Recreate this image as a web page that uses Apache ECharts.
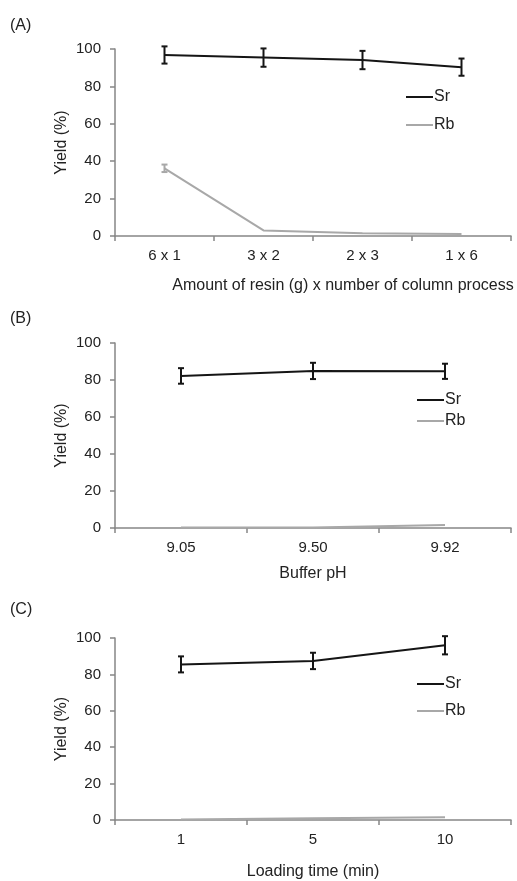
<!DOCTYPE html>
<html>
<head>
    <meta charset="utf-8">
    <title>Yield of Sr and Rb</title>
    <script src="https://cdn.jsdelivr.net/npm/echarts@6/dist/echarts.min.js"></script>
    <style type="text/css">
        html, body { margin: 0; padding: 0; background: #fff; }
        #main { width: 517px; height: 881px; }
    </style>
</head>
<body>
    <div id="main"></div>

    <script type="text/javascript">
        // (A) resin amount x number of column processes
        var catA = ['6 x 1', '3 x 2', '2 x 3', '1 x 6'];
        var srA = [96.8, 95.4, 94.1, 90.3];
        var srAErr = [4.6, 4.9, 4.9, 4.6];
        var rbA = [36.2, 3.0, 1.5, 1.1];
        var rbAErr = [2.0, 0, 0, 0];

        // (B) buffer pH
        var catB = ['9.05', '9.50', '9.92'];
        var srB = [82.2, 84.9, 84.7];
        var srBErr = [4.2, 4.4, 4.1];
        var rbB = [0.3, 0.3, 1.6];

        // (C) loading time
        var catC = ['1', '5', '10'];
        var srC = [85.5, 87.4, 96.0];
        var srCErr = [4.4, 4.5, 5.0];
        var rbC = [0.3, 1.0, 1.5];

        var black = '#151515';
        var grey = '#a8a8a8';
        var axisGrey = '#868686';
        var font = 'Liberation Sans, Arial, sans-serif';

        function errData(vals, errs) {
            var out = [];
            for (var i = 0; i < vals.length; i++) {
                if (errs[i] > 0) out.push([i, vals[i] - errs[i], vals[i] + errs[i]]);
            }
            return out;
        }

        function errSeries(name, idx, vals, errs, color) {
            return {
                name: name,
                type: 'custom',
                xAxisIndex: idx,
                yAxisIndex: idx,
                z: 5,
                data: errData(vals, errs),
                encode: { x: 0, y: [1, 2] },
                renderItem: function (params, api) {
                    var lo = api.coord([api.value(0), api.value(1)]);
                    var hi = api.coord([api.value(0), api.value(2)]);
                    var w = 3;
                    var st = { stroke: color, lineWidth: 2 };
                    return {
                        type: 'group',
                        children: [
                            { type: 'line', shape: { x1: lo[0], y1: lo[1], x2: hi[0], y2: hi[1] }, style: st },
                            { type: 'line', shape: { x1: lo[0] - w, y1: lo[1], x2: lo[0] + w, y2: lo[1] }, style: st },
                            { type: 'line', shape: { x1: hi[0] - w, y1: hi[1], x2: hi[0] + w, y2: hi[1] }, style: st }
                        ]
                    };
                }
            };
        }

        function lineSeries(name, idx, vals, color) {
            return {
                name: name,
                type: 'line',
                xAxisIndex: idx,
                yAxisIndex: idx,
                data: vals,
                showSymbol: false,
                symbol: 'none',
                color: color,
                lineStyle: { color: color, width: 2 }
            };
        }

        function xAxis(idx, cats, name, gap, pad) {
            return {
                type: 'category',
                gridIndex: idx,
                data: cats,
                boundaryGap: true,
                name: name,
                nameLocation: 'middle',
                nameGap: gap,
                nameMoveOverlap: false,
                nameTextStyle: { color: '#222', fontSize: 16, fontFamily: font, padding: pad },
                axisLine: { show: true, lineStyle: { color: axisGrey, width: 1.5 } },
                axisTick: { show: true, length: 5, lineStyle: { color: axisGrey, width: 1.5 } },
                axisLabel: { color: '#222', fontSize: 15, fontFamily: font, margin: 12 },
                splitLine: { show: false }
            };
        }

        function yAxis(idx) {
            return {
                type: 'value',
                gridIndex: idx,
                min: 0,
                max: 100,
                interval: 20,
                name: 'Yield (%)',
                nameLocation: 'middle',
                nameRotate: 90,
                nameGap: 45,
                nameMoveOverlap: false,
                nameTextStyle: { color: '#222', fontSize: 16, fontFamily: font },
                axisLine: { show: true, lineStyle: { color: axisGrey, width: 1.5 } },
                axisTick: { show: true, length: 5, lineStyle: { color: axisGrey, width: 1.5 } },
                axisLabel: { color: '#222', fontSize: 15, fontFamily: font, margin: 14 },
                splitLine: { show: false }
            };
        }

        function legend(left, top, gap) {
            return {
                orient: 'vertical',
                left: left,
                top: top,
                padding: 0,
                data: ['Sr', 'Rb'],
                icon: 'rect',
                itemWidth: 27,
                itemHeight: 2,
                itemGap: gap,
                selectedMode: false,
                textStyle: { color: '#222', fontSize: 16, fontFamily: font, padding: [0, 0, 0, -4] }
            };
        }

        function panelTitle(text, top) {
            return {
                text: text,
                left: 5,
                top: top,
                textStyle: { color: '#222', fontSize: 16, fontWeight: 'normal', fontFamily: font }
            };
        }

        var chart = echarts.init(document.getElementById('main'));

        var option = {
            backgroundColor: '#fff',
            animation: false,
            title: [
                panelTitle('(A)', 13),
                panelTitle('(B)', 306),
                panelTitle('(C)', 597)
            ],
            legend: [
                legend(406, 89, 12),
                legend(417, 392, 5),
                legend(417, 676, 11)
            ],
            grid: [
                { left: 115, right: 6, top: 49, height: 187 },
                { left: 115, right: 6, top: 343, height: 185 },
                { left: 115, right: 6, top: 638, height: 182 }
            ],
            xAxis: [
                xAxis(0, catA, 'Amount of resin (g) x number of column process', 42, [0, 0, 0, 60]),
                xAxis(1, catB, 'Buffer pH', 38, 0),
                xAxis(2, catC, 'Loading time (min)', 44, 0)
            ],
            yAxis: [yAxis(0), yAxis(1), yAxis(2)],
            series: [
                lineSeries('Sr', 0, srA, black),
                lineSeries('Rb', 0, rbA, grey),
                errSeries('Sr err A', 0, srA, srAErr, black),
                errSeries('Rb err A', 0, rbA, rbAErr, grey),
                lineSeries('Sr', 1, srB, black),
                lineSeries('Rb', 1, rbB, grey),
                errSeries('Sr err B', 1, srB, srBErr, black),
                lineSeries('Sr', 2, srC, black),
                lineSeries('Rb', 2, rbC, grey),
                errSeries('Sr err C', 2, srC, srCErr, black)
            ]
        };

        chart.setOption(option);
    </script>
</body>
</html>
